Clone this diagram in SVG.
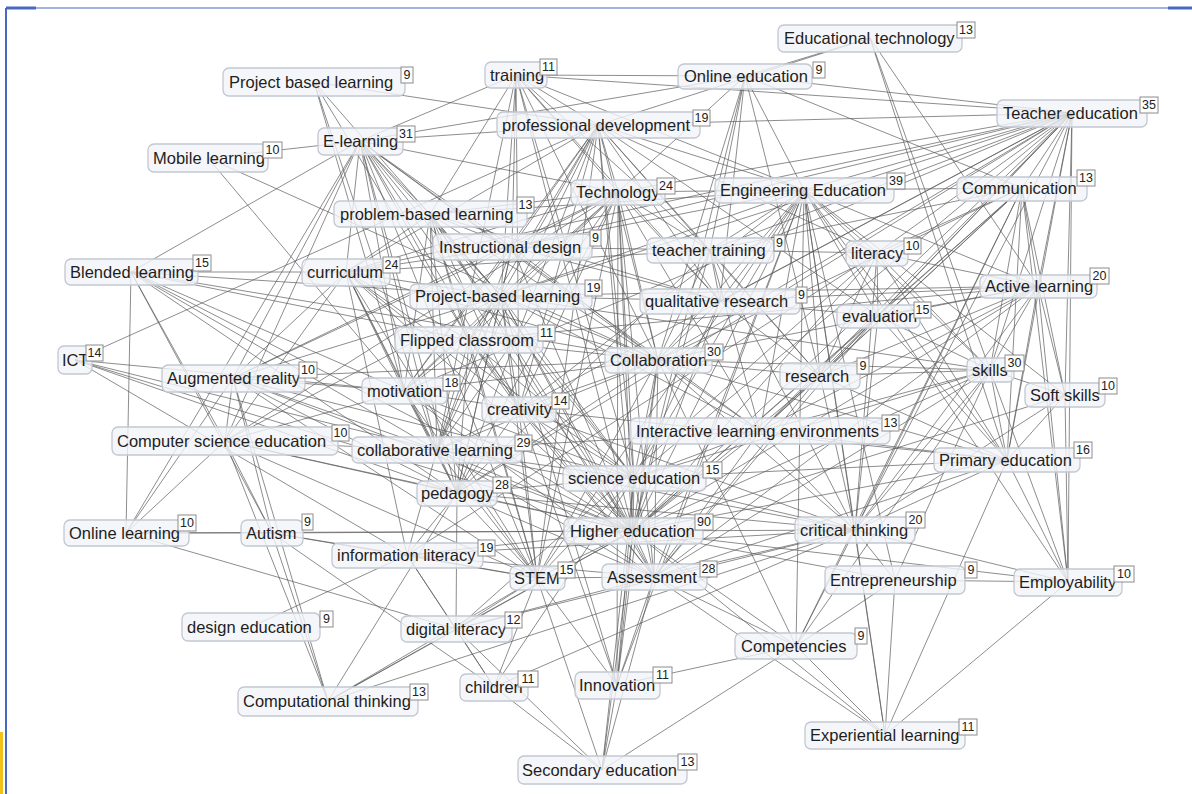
<svg xmlns="http://www.w3.org/2000/svg" width="1192" height="794" viewBox="0 0 1192 794">
<style>
.frame{stroke:#4a68c0;fill:none}
#edges path{stroke:#5c5c5c;stroke-width:.9;stroke-opacity:.78;fill:none}
.box{fill:#f3f4f7;fill-opacity:.8;stroke:#c2c7d1;stroke-width:1.3}
.lbl{font-family:"Liberation Sans",Arial,sans-serif;font-size:16.5px;fill:#1e1e1e}
.badge{fill:#fff;fill-opacity:.92;stroke:#8c8c8c;stroke-width:1}
.cnt{font-family:"Liberation Sans",Arial,sans-serif;font-size:12.5px;fill:#222;text-anchor:middle}
</style>
<rect width="1192" height="794" fill="#fff"/>
<!-- window frame -->
<g id="frame">
<line class="frame" x1="6" y1="8" x2="1192" y2="8" stroke-width="1.2"/>
<line class="frame" x1="6" y1="8" x2="6" y2="794" stroke-width="2"/>
<line class="frame" x1="6" y1="8" x2="36" y2="8" stroke-width="3"/>
<line class="frame" x1="1168" y1="8" x2="1192" y2="8" stroke-width="3"/>
<rect x="0" y="732" width="3" height="62" fill="#f2c21b"/>
</g>
<!-- co-occurrence links -->
<g id="edges">
<path d="M870 38L745 76M870 38L598 125M870 38L1038 286M870 38L990 370M870 38L1007 460"/>
<path d="M745 76L516 75M745 76L1072 113M745 76L360 141M745 76L618 192M745 76L804 190M745 76L1022 188M745 76L710 250M745 76L720 301M745 76L658 360M745 76L820 376M745 76L633 531"/>
<path d="M516 75L1072 113M516 75L598 125M516 75L360 141M516 75L618 192M516 75L804 190M516 75L430 214M516 75L512 247M516 75L710 250M516 75L501 296M516 75L720 301M516 75L658 360M516 75L519 409M516 75L437 450M516 75L634 478M516 75L633 531"/>
<path d="M314 82L598 125M314 82L501 296M314 82L469 340M314 82L404 391M314 82L437 450"/>
<path d="M1072 113L598 125M1072 113L618 192M1072 113L804 190M1072 113L1022 188M1072 113L512 247M1072 113L710 250M1072 113L877 253M1072 113L346 272M1072 113L501 296M1072 113L720 301M1072 113L1038 286M1072 113L878 316M1072 113L658 360M1072 113L404 391M1072 113L820 376M1072 113L990 370M1072 113L1065 395M1072 113L519 409M1072 113L760 431M1072 113L1007 460M1072 113L634 478M1072 113L457 493M1072 113L633 531M1072 113L855 530M1072 113L1068 582"/>
<path d="M598 125L360 141M598 125L618 192M598 125L804 190M598 125L512 247M598 125L710 250M598 125L877 253M598 125L346 272M598 125L501 296M598 125L720 301M598 125L878 316M598 125L75 360M598 125L469 340M598 125L658 360M598 125L404 391M598 125L820 376M598 125L519 409M598 125L437 450M598 125L634 478M598 125L457 493M598 125L633 531M598 125L537 578"/>
<path d="M360 141L208 158M360 141L618 192M360 141L430 214M360 141L512 247M360 141L131 272M360 141L346 272M360 141L501 296M360 141L469 340M360 141L233 378M360 141L658 360M360 141L404 391M360 141L519 409M360 141L225 441M360 141L437 450M360 141L760 431M360 141L634 478M360 141L457 493M360 141L633 531M360 141L126 533M360 141L537 578"/>
<path d="M208 158L658 360M208 158L404 391"/>
<path d="M618 192L804 190M618 192L430 214M618 192L512 247M618 192L710 250M618 192L346 272M618 192L501 296M618 192L720 301M618 192L469 340M618 192L233 378M618 192L658 360M618 192L404 391M618 192L519 409M618 192L225 441M618 192L437 450M618 192L760 431M618 192L634 478M618 192L457 493M618 192L633 531M618 192L537 578M618 192L654 577M618 192L617 685"/>
<path d="M804 190L1022 188M804 190L430 214M804 190L512 247M804 190L710 250M804 190L877 253M804 190L501 296M804 190L720 301M804 190L1038 286M804 190L878 316M804 190L658 360M804 190L820 376M804 190L990 370M804 190L1065 395M804 190L519 409M804 190L760 431M804 190L1007 460M804 190L634 478M804 190L633 531M804 190L855 530M804 190L537 578M804 190L654 577M804 190L895 580M804 190L1068 582M804 190L796 646M804 190L617 685M804 190L885 735"/>
<path d="M1022 188L710 250M1022 188L877 253M1022 188L1038 286M1022 188L878 316M1022 188L658 360M1022 188L820 376M1022 188L990 370M1022 188L1065 395M1022 188L760 431M1022 188L1007 460M1022 188L633 531M1022 188L855 530M1022 188L1068 582M1022 188L796 646"/>
<path d="M430 214L512 247M430 214L346 272M430 214L501 296M430 214L720 301M430 214L469 340M430 214L658 360M430 214L404 391M430 214L519 409M430 214L437 450M430 214L634 478M430 214L457 493M430 214L633 531M430 214L537 578M430 214L654 577"/>
<path d="M512 247L710 250M512 247L346 272M512 247L501 296M512 247L720 301M512 247L233 378M512 247L658 360M512 247L404 391M512 247L437 450M512 247L457 493M512 247L633 531"/>
<path d="M710 250L877 253M710 250L346 272M710 250L720 301M710 250L658 360M710 250L820 376M710 250L760 431M710 250L457 493M710 250L633 531M710 250L855 530"/>
<path d="M877 253L1038 286M877 253L878 316M877 253L820 376M877 253L990 370M877 253L1007 460M877 253L633 531M877 253L855 530M877 253L407 555M877 253L456 629"/>
<path d="M131 272L346 272M131 272L501 296M131 272L469 340M131 272L658 360M131 272L404 391M131 272L225 441M131 272L437 450M131 272L457 493M131 272L633 531M131 272L126 533M131 272L272 533"/>
<path d="M346 272L501 296M346 272L469 340M346 272L233 378M346 272L658 360M346 272L404 391M346 272L519 409M346 272L225 441M346 272L437 450M346 272L634 478M346 272L457 493M346 272L633 531M346 272L407 555M346 272L537 578"/>
<path d="M501 296L720 301M501 296L1038 286M501 296L469 340M501 296L233 378M501 296L658 360M501 296L404 391M501 296L990 370M501 296L519 409M501 296L225 441M501 296L437 450M501 296L760 431M501 296L634 478M501 296L457 493M501 296L633 531M501 296L537 578M501 296L654 577M501 296L617 685"/>
<path d="M720 301L1038 286M720 301L878 316M720 301L658 360M720 301L820 376M720 301L634 478M720 301L633 531"/>
<path d="M1038 286L878 316M1038 286L469 340M1038 286L658 360M1038 286L820 376M1038 286L990 370M1038 286L1065 395M1038 286L760 431M1038 286L1007 460M1038 286L633 531M1038 286L855 530M1038 286L654 577M1038 286L1068 582"/>
<path d="M878 316L820 376M878 316L990 370M878 316L760 431M878 316L1007 460M878 316L633 531M878 316L855 530M878 316L654 577"/>
<path d="M75 360L404 391M75 360L437 450M75 360L457 493M75 360L633 531M75 360L407 555"/>
<path d="M469 340L658 360M469 340L404 391M469 340L519 409M469 340L437 450M469 340L634 478M469 340L457 493M469 340L633 531M469 340L537 578M469 340L654 577"/>
<path d="M233 378L658 360M233 378L404 391M233 378L225 441M233 378L437 450M233 378L634 478M233 378L457 493M233 378L633 531M233 378L126 533M233 378L272 533M233 378L537 578M233 378L328 701"/>
<path d="M658 360L404 391M658 360L820 376M658 360L990 370M658 360L519 409M658 360L437 450M658 360L760 431M658 360L1007 460M658 360L634 478M658 360L457 493M658 360L633 531M658 360L855 530M658 360L537 578M658 360L654 577M658 360L796 646M658 360L617 685"/>
<path d="M404 391L519 409M404 391L225 441M404 391L437 450M404 391L634 478M404 391L457 493M404 391L633 531M404 391L537 578M404 391L654 577"/>
<path d="M820 376L990 370M820 376L760 431M820 376L1007 460M820 376L633 531M820 376L855 530M820 376L654 577"/>
<path d="M990 370L1065 395M990 370L760 431M990 370L1007 460M990 370L634 478M990 370L633 531M990 370L855 530M990 370L654 577M990 370L895 580M990 370L1068 582M990 370L796 646"/>
<path d="M1065 395L1007 460M1065 395L633 531M1065 395L855 530M1065 395L1068 582"/>
<path d="M519 409L437 450M519 409L1007 460M519 409L634 478M519 409L457 493M519 409L633 531M519 409L855 530M519 409L537 578M519 409L654 577M519 409L617 685"/>
<path d="M225 441L437 450M225 441L457 493M225 441L633 531M225 441L126 533M225 441L272 533M225 441L537 578M225 441L328 701"/>
<path d="M437 450L760 431M437 450L634 478M437 450L457 493M437 450L633 531M437 450L855 530M437 450L407 555M437 450L537 578M437 450L654 577"/>
<path d="M760 431L1007 460M760 431L634 478M760 431L633 531M760 431L855 530M760 431L654 577"/>
<path d="M1007 460L634 478M1007 460L633 531M1007 460L855 530M1007 460L654 577M1007 460L1068 582M1007 460L885 735"/>
<path d="M634 478L457 493M634 478L633 531M634 478L855 530M634 478L537 578M634 478L654 577M634 478L494 687M634 478L617 685M634 478L602 770"/>
<path d="M457 493L633 531M457 493L855 530M457 493L407 555M457 493L537 578M457 493L654 577M457 493L456 629M457 493L328 701"/>
<path d="M633 531L855 530M633 531L126 533M633 531L272 533M633 531L407 555M633 531L537 578M633 531L654 577M633 531L895 580M633 531L1068 582M633 531L456 629M633 531L796 646M633 531L328 701M633 531L617 685M633 531L885 735M633 531L602 770"/>
<path d="M855 530L407 555M855 530L654 577M855 530L895 580M855 530L1068 582M855 530L456 629M855 530L796 646M855 530L328 701M855 530L494 687M855 530L885 735"/>
<path d="M126 533L272 533M126 533L456 629"/>
<path d="M272 533L407 555M272 533L537 578M272 533L328 701M272 533L494 687"/>
<path d="M407 555L537 578M407 555L654 577M407 555L251 627M407 555L456 629M407 555L494 687"/>
<path d="M537 578L654 577M537 578L456 629M537 578L328 701M537 578L494 687M537 578L617 685M537 578L602 770"/>
<path d="M654 577L456 629M654 577L796 646M654 577L617 685M654 577L885 735M654 577L602 770"/>
<path d="M895 580L1068 582M895 580L796 646M895 580L885 735M1068 582L885 735"/>
<path d="M456 629L328 701M456 629L494 687M456 629L602 770"/>
<path d="M796 646L617 685M796 646L885 735M796 646L602 770M494 687L602 770M617 685L602 770"/>
</g>
<!-- keyword nodes: label box + occurrence badge -->
<g id="n-edt"><rect class="box" x="778" y="25" width="184" height="27" rx="6"/><text class="lbl" x="784" y="44">Educational technology</text><rect class="badge" x="957" y="22" width="18" height="16"/><text class="cnt" x="966" y="34">13</text></g>
<g id="n-oed"><rect class="box" x="678" y="64" width="134" height="25" rx="6"/><text class="lbl" x="684" y="82">Online education</text><rect class="badge" x="813" y="62" width="12" height="16"/><text class="cnt" x="819" y="74">9</text></g>
<g id="n-trn"><rect class="box" x="485" y="62" width="62" height="26" rx="6"/><text class="lbl" x="490" y="81">training</text><rect class="badge" x="540" y="59" width="17" height="16"/><text class="cnt" x="548.5" y="71">11</text></g>
<g id="n-pbl1"><rect class="box" x="223" y="68" width="182" height="28" rx="6"/><text class="lbl" x="229" y="88">Project based learning</text><rect class="badge" x="401" y="67" width="12" height="16"/><text class="cnt" x="407" y="79">9</text></g>
<g id="n-ted"><rect class="box" x="997" y="100" width="150" height="27" rx="6"/><text class="lbl" x="1003" y="119">Teacher education</text><rect class="badge" x="1140" y="97" width="18" height="16"/><text class="cnt" x="1149" y="109">35</text></g>
<g id="n-prd"><rect class="box" x="497" y="112" width="203" height="26" rx="6"/><text class="lbl" x="502" y="131">professional development</text><rect class="badge" x="693" y="110" width="17" height="16"/><text class="cnt" x="701.5" y="122">19</text></g>
<g id="n-elr"><rect class="box" x="318" y="128" width="85" height="27" rx="6"/><text class="lbl" x="323" y="147">E-learning</text><rect class="badge" x="397" y="126" width="18" height="16"/><text class="cnt" x="406" y="138">31</text></g>
<g id="n-mob"><rect class="box" x="148" y="144" width="120" height="28" rx="6"/><text class="lbl" x="153" y="164">Mobile learning</text><rect class="badge" x="263" y="142" width="19" height="16"/><text class="cnt" x="272.5" y="154">10</text></g>
<g id="n-tec"><rect class="box" x="571" y="180" width="94" height="25" rx="6"/><text class="lbl" x="576" y="198">Technology</text><rect class="badge" x="657" y="178" width="18" height="16"/><text class="cnt" x="666" y="190">24</text></g>
<g id="n-eng"><rect class="box" x="715" y="178" width="179" height="25" rx="6"/><text class="lbl" x="720" y="196">Engineering Education</text><rect class="badge" x="887" y="173" width="18" height="16"/><text class="cnt" x="896" y="185">39</text></g>
<g id="n-com"><rect class="box" x="957" y="177" width="130" height="24" rx="6"/><text class="lbl" x="962" y="194">Communication</text><rect class="badge" x="1077" y="170" width="18" height="16"/><text class="cnt" x="1086" y="182">13</text></g>
<g id="n-pbl2"><rect class="box" x="334" y="201" width="193" height="26" rx="6"/><text class="lbl" x="340" y="220">problem-based learning</text><rect class="badge" x="517" y="197" width="17" height="16"/><text class="cnt" x="525.5" y="209">13</text></g>
<g id="n-ins"><rect class="box" x="433" y="234" width="159" height="26" rx="6"/><text class="lbl" x="439" y="253">Instructional design</text><rect class="badge" x="590" y="230" width="11" height="16"/><text class="cnt" x="595.5" y="242">9</text></g>
<g id="n-ttr"><rect class="box" x="647" y="238" width="127" height="25" rx="6"/><text class="lbl" x="652" y="256">teacher training</text><rect class="badge" x="774" y="235" width="11" height="16"/><text class="cnt" x="779.5" y="247">9</text></g>
<g id="n-lit"><rect class="box" x="846" y="241" width="62" height="25" rx="6"/><text class="lbl" x="851" y="259">literacy</text><rect class="badge" x="904" y="238" width="17" height="16"/><text class="cnt" x="912.5" y="250">10</text></g>
<g id="n-bld"><rect class="box" x="65" y="259" width="133" height="26" rx="6"/><text class="lbl" x="70" y="278">Blended learning</text><rect class="badge" x="193" y="255" width="18" height="16"/><text class="cnt" x="202" y="267">15</text></g>
<g id="n-cur"><rect class="box" x="302" y="259" width="88" height="27" rx="6"/><text class="lbl" x="307" y="278">curriculum</text><rect class="badge" x="383" y="257" width="17" height="16"/><text class="cnt" x="391.5" y="269">24</text></g>
<g id="n-pbl3"><rect class="box" x="410" y="284" width="182" height="25" rx="6"/><text class="lbl" x="415" y="302">Project-based learning</text><rect class="badge" x="585" y="280" width="17" height="16"/><text class="cnt" x="593.5" y="292">19</text></g>
<g id="n-qua"><rect class="box" x="640" y="289" width="160" height="25" rx="6"/><text class="lbl" x="645" y="307">qualitative research</text><rect class="badge" x="796" y="287" width="11" height="16"/><text class="cnt" x="801.5" y="299">9</text></g>
<g id="n-act"><rect class="box" x="980" y="275" width="117" height="23" rx="6"/><text class="lbl" x="985" y="292">Active learning</text><rect class="badge" x="1090" y="268" width="19" height="16"/><text class="cnt" x="1099.5" y="280">20</text></g>
<g id="n-eva"><rect class="box" x="837" y="305" width="83" height="23" rx="6"/><text class="lbl" x="842" y="322">evaluation</text><rect class="badge" x="914" y="302" width="17" height="16"/><text class="cnt" x="922.5" y="314">15</text></g>
<g id="n-ict"><rect class="box" x="58" y="346" width="34" height="28" rx="6"/><text class="lbl" x="62" y="366">ICT</text><rect class="badge" x="86" y="345" width="17" height="16"/><text class="cnt" x="94.5" y="357">14</text></g>
<g id="n-fli"><rect class="box" x="395" y="327" width="148" height="26" rx="6"/><text class="lbl" x="400" y="346">Flipped classroom</text><rect class="badge" x="538" y="325" width="17" height="16"/><text class="cnt" x="546.5" y="337">11</text></g>
<g id="n-aug"><rect class="box" x="162" y="365" width="143" height="27" rx="6"/><text class="lbl" x="167" y="384">Augmented reality</text><rect class="badge" x="299" y="362" width="18" height="16"/><text class="cnt" x="308" y="374">10</text></g>
<g id="n-col"><rect class="box" x="605" y="348" width="107" height="25" rx="6"/><text class="lbl" x="610" y="366">Collaboration</text><rect class="badge" x="705" y="344" width="18" height="16"/><text class="cnt" x="714" y="356">30</text></g>
<g id="n-mot"><rect class="box" x="362" y="378" width="85" height="26" rx="6"/><text class="lbl" x="367" y="397">motivation</text><rect class="badge" x="443" y="375" width="17" height="16"/><text class="cnt" x="451.5" y="387">18</text></g>
<g id="n-res"><rect class="box" x="780" y="363" width="80" height="26" rx="6"/><text class="lbl" x="785" y="382">research</text><rect class="badge" x="857" y="358" width="12" height="16"/><text class="cnt" x="863" y="370">9</text></g>
<g id="n-skl"><rect class="box" x="967" y="358" width="47" height="24" rx="6"/><text class="lbl" x="972" y="376">skills</text><rect class="badge" x="1005" y="355" width="19" height="16"/><text class="cnt" x="1014.5" y="367">30</text></g>
<g id="n-sof"><rect class="box" x="1025" y="383" width="80" height="24" rx="6"/><text class="lbl" x="1030" y="401">Soft skills</text><rect class="badge" x="1099" y="378" width="18" height="16"/><text class="cnt" x="1108" y="390">10</text></g>
<g id="n-cre"><rect class="box" x="482" y="397" width="74" height="25" rx="6"/><text class="lbl" x="487" y="415">creativity</text><rect class="badge" x="552" y="393" width="17" height="16"/><text class="cnt" x="560.5" y="405">14</text></g>
<g id="n-cse"><rect class="box" x="112" y="427" width="226" height="28" rx="6"/><text class="lbl" x="117" y="447">Computer science education</text><rect class="badge" x="332" y="425" width="17" height="16"/><text class="cnt" x="340.5" y="437">10</text></g>
<g id="n-cll"><rect class="box" x="352" y="437" width="170" height="26" rx="6"/><text class="lbl" x="357" y="456">collaborative learning</text><rect class="badge" x="515" y="435" width="17" height="16"/><text class="cnt" x="523.5" y="447">29</text></g>
<g id="n-ile"><rect class="box" x="630" y="418" width="260" height="26" rx="6"/><text class="lbl" x="636" y="437">Interactive learning environments</text><rect class="badge" x="882" y="415" width="17" height="16"/><text class="cnt" x="890.5" y="427">13</text></g>
<g id="n-pri"><rect class="box" x="934" y="448" width="146" height="24" rx="6"/><text class="lbl" x="939" y="466">Primary education</text><rect class="badge" x="1074" y="442" width="18" height="16"/><text class="cnt" x="1083" y="454">16</text></g>
<g id="n-sci"><rect class="box" x="563" y="466" width="143" height="25" rx="6"/><text class="lbl" x="568" y="484">science education</text><rect class="badge" x="703" y="462" width="19" height="16"/><text class="cnt" x="712.5" y="474">15</text></g>
<g id="n-ped"><rect class="box" x="417" y="481" width="80" height="25" rx="6"/><text class="lbl" x="421" y="499">pedagogy</text><rect class="badge" x="493" y="477" width="18" height="16"/><text class="cnt" x="502" y="489">28</text></g>
<g id="n-hed"><rect class="box" x="564" y="518" width="139" height="26" rx="6"/><text class="lbl" x="570" y="537">Higher education</text><rect class="badge" x="695" y="514" width="18" height="16"/><text class="cnt" x="704" y="526">90</text></g>
<g id="n-crt"><rect class="box" x="795" y="517" width="120" height="26" rx="6"/><text class="lbl" x="800" y="536">critical thinking</text><rect class="badge" x="906" y="512" width="19" height="16"/><text class="cnt" x="915.5" y="524">20</text></g>
<g id="n-onl"><rect class="box" x="64" y="520" width="125" height="26" rx="6"/><text class="lbl" x="69" y="539">Online learning</text><rect class="badge" x="178" y="515" width="18" height="16"/><text class="cnt" x="187" y="527">10</text></g>
<g id="n-aut"><rect class="box" x="241" y="520" width="62" height="26" rx="6"/><text class="lbl" x="246" y="539">Autism</text><rect class="badge" x="302" y="514" width="11" height="16"/><text class="cnt" x="307.5" y="526">9</text></g>
<g id="n-inf"><rect class="box" x="332" y="543" width="151" height="25" rx="6"/><text class="lbl" x="337" y="561">information literacy</text><rect class="badge" x="478" y="540" width="17" height="16"/><text class="cnt" x="486.5" y="552">19</text></g>
<g id="n-stm"><rect class="box" x="510" y="566" width="55" height="24" rx="6"/><text class="lbl" x="514" y="584">STEM</text><rect class="badge" x="558" y="562" width="17" height="16"/><text class="cnt" x="566.5" y="574">15</text></g>
<g id="n-ass"><rect class="box" x="602" y="564" width="105" height="26" rx="6"/><text class="lbl" x="607" y="583">Assessment</text><rect class="badge" x="700" y="561" width="17" height="16"/><text class="cnt" x="708.5" y="573">28</text></g>
<g id="n-ent"><rect class="box" x="825" y="566" width="140" height="28" rx="6"/><text class="lbl" x="830" y="586">Entrepreneurship</text><rect class="badge" x="965" y="562" width="12" height="16"/><text class="cnt" x="971" y="574">9</text></g>
<g id="n-emp"><rect class="box" x="1014" y="569" width="108" height="27" rx="6"/><text class="lbl" x="1019" y="588">Employability</text><rect class="badge" x="1114" y="566" width="20" height="16"/><text class="cnt" x="1124" y="578">10</text></g>
<g id="n-des"><rect class="box" x="182" y="613" width="138" height="28" rx="6"/><text class="lbl" x="187" y="633">design education</text><rect class="badge" x="320" y="611" width="13" height="16"/><text class="cnt" x="326.5" y="623">9</text></g>
<g id="n-dig"><rect class="box" x="401" y="616" width="111" height="26" rx="6"/><text class="lbl" x="406" y="635">digital literacy</text><rect class="badge" x="505" y="612" width="17" height="16"/><text class="cnt" x="513.5" y="624">12</text></g>
<g id="n-cmp"><rect class="box" x="735" y="633" width="122" height="26" rx="6"/><text class="lbl" x="741" y="652">Competencies</text><rect class="badge" x="855" y="628" width="12" height="16"/><text class="cnt" x="861" y="640">9</text></g>
<g id="n-cmt"><rect class="box" x="238" y="687" width="180" height="29" rx="6"/><text class="lbl" x="243" y="707">Computational thinking</text><rect class="badge" x="410" y="684" width="18" height="16"/><text class="cnt" x="419" y="696">13</text></g>
<g id="n-chi"><rect class="box" x="460" y="674" width="68" height="27" rx="6"/><text class="lbl" x="465" y="693">children</text><rect class="badge" x="518" y="671" width="20" height="16"/><text class="cnt" x="528" y="683">11</text></g>
<g id="n-inn"><rect class="box" x="575" y="672" width="85" height="27" rx="6"/><text class="lbl" x="579" y="691">Innovation</text><rect class="badge" x="653" y="667" width="19" height="16"/><text class="cnt" x="662.5" y="679">11</text></g>
<g id="n-exp"><rect class="box" x="805" y="722" width="160" height="27" rx="6"/><text class="lbl" x="810" y="741">Experiential learning</text><rect class="badge" x="959" y="719" width="18" height="16"/><text class="cnt" x="968" y="731">11</text></g>
<g id="n-sec"><rect class="box" x="518" y="756" width="169" height="28" rx="6"/><text class="lbl" x="522" y="776">Secondary education</text><rect class="badge" x="678" y="754" width="19" height="16"/><text class="cnt" x="687.5" y="766">13</text></g>
</svg>
